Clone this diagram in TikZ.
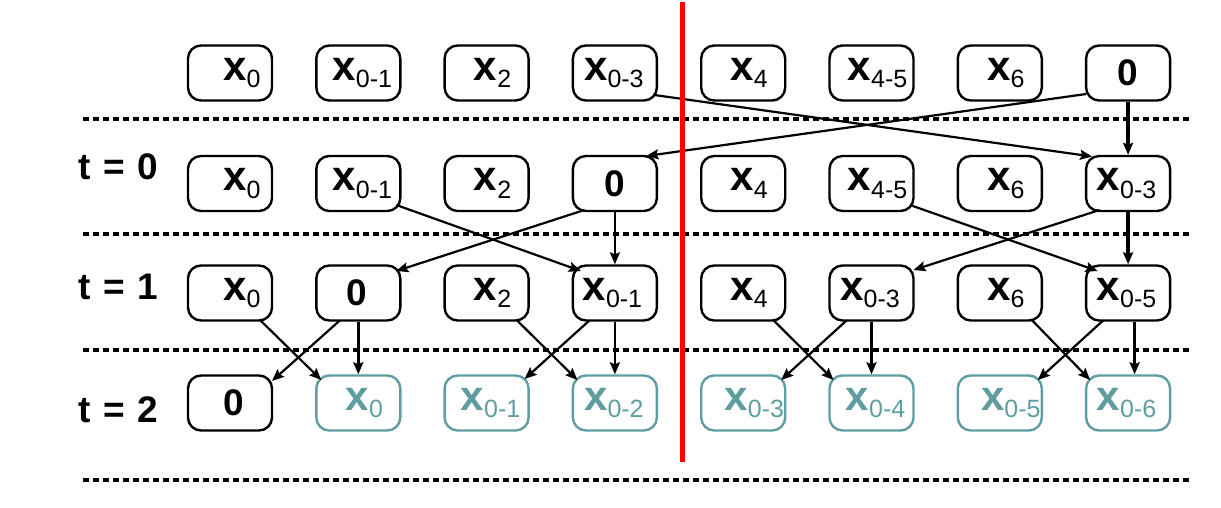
\documentclass[tikz,border=0pt]{standalone}
\usepackage{fontspec}
\setmainfont{Liberation Sans}
\usetikzlibrary{arrows.meta}
\definecolor{newcell}{RGB}{95,158,160}
% bold x with a regular subscript
\newcommand\xlab[1]{{\fontsize{42}{42}\selectfont\bfseries x}\raisebox{-7.7pt}{\fontsize{25}{25}\selectfont #1}}
\newcommand\zlab{{\fontsize{37}{37}\selectfont\bfseries 0}}
% cell content, shifted right by half of #1
\newcommand\cell[2]{\makebox[78pt][c]{\hspace*{#1}#2}}
\newcommand\tlab[1]{{\fontsize{37}{37}\selectfont\bfseries\spaceskip=12.5pt t = #1}}
\begin{document}
\begin{tikzpicture}[x=1pt,y=-1pt,
  box/.style={draw, line width=2.4pt, rounded corners=13pt, minimum width=84pt,
    minimum height=55pt, inner sep=0pt},
  newbox/.style={box, draw=newcell, text=newcell},
  arr/.style={-{Stealth[length=12pt,width=10pt,inset=2pt]}, line width=2.2pt},
  arrb/.style={arr, line width=3.4pt},
  sep/.style={line width=3.4pt, dash pattern=on 6pt off 4pt},
  split/.style={line width=5pt, red}]
\useasboundingbox (0,0) rectangle (1221,508);

% time separators
\draw[sep] (83,119) -- (1191,119);
\draw[sep] (83,234) -- (1191,234);
\draw[sep] (83,350) -- (1191,350);
\draw[sep] (83,480) -- (1191,480);

% step labels
\node (t0) at (118,167) {\tlab{0}};
\node (t1) at (118,287) {\tlab{1}};
\node (t2) at (118,410) {\tlab{2}};

% input row
\node[box] (a1) at (230,73)    {\cell{24pt}{\xlab{0}}};
\node[box] (a2) at (358.3,73)  {\cell{8pt}{\xlab{0-1}}};
\node[box] (a3) at (486.6,73)  {\cell{12pt}{\xlab{2}}};
\node[box] (a4) at (614.9,73)  {\cell{-2pt}{\xlab{0-3}}};
\node[box] (a5) at (743.2,73)  {\cell{12pt}{\xlab{4}}};
\node[box] (a6) at (871.5,73)  {\cell{12pt}{\xlab{4-5}}};
\node[box] (a7) at (999.8,73)  {\cell{12pt}{\xlab{6}}};
\node[box] (a8) at (1128.1,73) {\cell{0pt}{\zlab}};

% t = 0
\node[box] (b1) at (230,183.5)    {\cell{24pt}{\xlab{0}}};
\node[box] (b2) at (358.3,183.5)  {\cell{8pt}{\xlab{0-1}}};
\node[box] (b3) at (486.6,183.5)  {\cell{12pt}{\xlab{2}}};
\node[box] (b4) at (614.9,183.5)  {\cell{0pt}{\zlab}};
\node[box] (b5) at (743.2,183.5)  {\cell{12pt}{\xlab{4}}};
\node[box] (b6) at (871.5,183.5)  {\cell{12pt}{\xlab{4-5}}};
\node[box] (b7) at (999.8,183.5)  {\cell{12pt}{\xlab{6}}};
\node[box] (b8) at (1128.1,183.5) {\cell{-3pt}{\xlab{0-3}}};

% t = 1
\node[box] (c1) at (230,293)    {\cell{24pt}{\xlab{0}}};
\node[box] (c2) at (358.3,293)  {\cell{-3pt}{\zlab}};
\node[box] (c3) at (486.6,293)  {\cell{12pt}{\xlab{2}}};
\node[box] (c4) at (614.9,293)  {\cell{-5pt}{\xlab{0-1}}};
\node[box] (c5) at (743.2,293)  {\cell{12pt}{\xlab{4}}};
\node[box] (c6) at (871.5,293)  {\cell{-3pt}{\xlab{0-3}}};
\node[box] (c7) at (999.8,293)  {\cell{12pt}{\xlab{6}}};
\node[box] (c8) at (1128.1,293) {\cell{-3pt}{\xlab{0-5}}};

% t = 2
\node[box]    (d1) at (230,403)    {\cell{7pt}{\zlab}};
\node[newbox] (d2) at (358.3,403)  {\cell{12pt}{\xlab{0}}};
\node[newbox] (d3) at (486.6,403)  {\cell{8pt}{\xlab{0-1}}};
\node[newbox] (d4) at (614.9,403)  {\cell{-2pt}{\xlab{0-2}}};
\node[newbox] (d5) at (743.2,403)  {\cell{22pt}{\xlab{0-3}}};
\node[newbox] (d6) at (871.5,403)  {\cell{8pt}{\xlab{0-4}}};
\node[newbox] (d7) at (999.8,403)  {\cell{22pt}{\xlab{0-5}}};
\node[newbox] (d8) at (1128.1,403) {\cell{-3pt}{\xlab{0-6}}};

% input -> t = 0
\draw[arr]  ([shift={(39.5,22)}]a4.center) -- ([shift={(-36,-27)}]b8.center);
\draw[arr]  ([shift={(-42,21)}]a8.center) -- ([shift={(31.5,-27.5)}]b4.center);
\draw[arrb] (a8.south) -- (b8.north);

% t = 0 -> t = 1
\draw[arr]  ([shift={(38,21.5)}]b2.center) -- ([shift={(-34,-22)}]c4.center);
\draw[arr]  ([shift={(-30.5,26.5)}]b4.center) -- ([shift={(38,-22)}]c2.center);
\draw[arr]  (b4.south) -- (c4.north);
\draw[arr]  ([shift={(38.5,21.5)}]b6.center) -- ([shift={(-30.5,-22)}]c8.center);
\draw[arr]  ([shift={(-28.5,26.5)}]b8.center) -- ([shift={(42,-23)}]c6.center);
\draw[arrb] (b8.south) -- (c8.north);

% t = 1 -> t = 2
\draw[arr]  ([shift={(30,27)}]c1.center) -- ([shift={(-37,-23)}]d2.center);
\draw[arr]  ([shift={(-18.5,27.5)}]c2.center) -- ([shift={(42,-22)}]d1.center);
\draw[arrb] (c2.south) -- (d2.north);
\draw[arr]  ([shift={(30,27)}]c3.center) -- ([shift={(-37.5,-23)}]d4.center);
\draw[arr]  ([shift={(-25.5,27.5)}]c4.center) -- ([shift={(38,-24)}]d3.center);
\draw[arr]  (c4.south) -- (d4.north);
\draw[arr]  ([shift={(30,27)}]c5.center) -- ([shift={(-38,-23)}]d6.center);
\draw[arr]  ([shift={(-25,27.5)}]c6.center) -- ([shift={(38,-23)}]d5.center);
\draw[arrb] (c6.south) -- (d6.north);
\draw[arr]  ([shift={(32,27)}]c7.center) -- ([shift={(-38,-23)}]d8.center);
\draw[arr]  ([shift={(-25,27.5)}]c8.center) -- ([shift={(38,-23)}]d7.center);
\draw[arrb] ([xshift=6.5pt]c8.south) -- ([xshift=6.5pt]d8.north);

% partition boundary
\draw[split] (682.5,2) -- (682.5,462);
\end{tikzpicture}
\end{document}
